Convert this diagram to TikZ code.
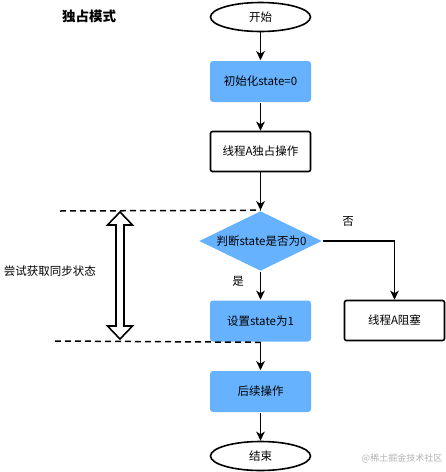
\documentclass[tikz,border=0pt]{standalone}
\usepackage{fontspec}
\setmainfont{Noto Sans CJK SC}
\usetikzlibrary{arrows.meta,shapes.geometric}
\definecolor{boxblue}{HTML}{66B2FF}
\tikzset{
  base/.style={font=\fontsize{11.5}{13}\selectfont, inner sep=0pt, line width=1.6pt},
  proc/.style={base, draw, rectangle, rounded corners=2pt, minimum width=100pt, minimum height=40pt},
  blueproc/.style={base, rectangle, rounded corners=3pt, fill=boxblue, minimum width=101pt, minimum height=41pt},
  term/.style={base, draw, ellipse, minimum width=100pt, minimum height=29pt},
  dec/.style={base, diamond, fill=boxblue, aspect=2.05, minimum width=123pt, minimum height=60pt, inner sep=0pt},
  flow/.style={line width=1.8pt, -{Stealth[length=9pt,width=8.5pt,inset=2.5pt]}},
  guide/.style={line width=1.5pt, dash pattern=on 6pt off 4pt},
  lbl/.style={font=\fontsize{11.5}{13}\selectfont, inner sep=0pt}
}
\begin{document}
\begin{tikzpicture}[x=1pt,y=-1pt]
\useasboundingbox (0,0) rectangle (446,472);
\node[lbl, font=\fontsize{13.5}{15}\selectfont\bfseries] (title) at (89,16) {独占模式};
\node[term] (start) at (260.5,17) {开始};
\node[blueproc] (init) at (260.5,81.5) {初始化state=0};
\node[proc] (op) at (260.5,151.5) {线程A独占操作};
\node[dec] (judge) at (260.5,241) {\hspace*{2pt}判断state是否为0};
\node[blueproc] (set) at (260.5,321) {设置state为1};
\node[proc] (block) at (394.5,320.5) {线程A阻塞};
\node[blueproc] (next) at (260.5,391.5) {后续操作};
\node[term] (end) at (260.5,456) {结束};
\draw[flow] (start) -- (init);
\draw[flow] (init) -- (op);
\draw[flow] (op) -- (judge.north);
\draw[flow] (judge.south) -- (set);
\draw[flow] (judge.east) -| (block.north);
\draw[flow] (set) -- (next);
\draw[flow] (next) -- (end);
\node[lbl] (yes) at (238,281) {是};
\node[lbl] (no) at (348,221) {否};
\coordinate (d1) at (60,211);
\coordinate (d2) at (55,341);
\draw[guide] (d1) -- (judge.north);
\draw[guide] (d2) -- (set.south);
% hollow double arrow
\draw[line width=1.6pt, fill=white] (120,212) -- (132.5,225) -- (124,225) -- (124,326) -- (132.5,326) -- (120,339) -- (107.5,326) -- (116,326) -- (116,225) -- (107.5,225) -- cycle;
\node[lbl] (try) at (50,271) {尝试获取同步状态};
\node[lbl, font=\fontsize{9}{11}\selectfont, text=black!30] (wm) at (402,458) {@稀土掘金技术社区};
\end{tikzpicture}
\end{document}
